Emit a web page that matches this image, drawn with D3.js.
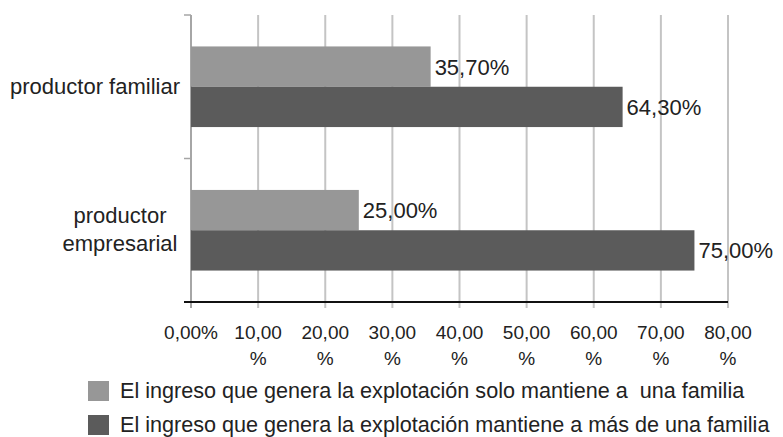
<!DOCTYPE html>
<html>
<head>
<meta charset="utf-8">
<script src="https://cdn.jsdelivr.net/npm/d3@7"></script>
<style>
  body { margin: 0; background: #fff; }
  svg { display: block; font-family: "Liberation Sans", Arial, sans-serif; }
  text { white-space: pre; }
</style>
</head>
<body>
<svg id="chart" width="783" height="437"></svg>
<script>
// Producer types and share of farms by income coverage
const categories = ["productor familiar", "productor empresarial"];
const seriesNames = [
  "El ingreso que genera la explotación solo mantiene a  una familia",
  "El ingreso que genera la explotación mantiene a más de una familia"
];
const soloUnaFamilia = [35.7, 25.0];
const masDeUnaFamilia = [64.3, 75.0];
const xTicks = [0, 10, 20, 30, 40, 50, 60, 70, 80];

const colors = ["#979797", "#5b5b5b"];
const series = [soloUnaFamilia, masDeUnaFamilia];

const svg = d3.select("#chart");
const plot = { left: 191, right: 728, top: 15, bottom: 302 };

const x = d3.scaleLinear().domain([0, 80]).range([plot.left, plot.right]);
const y = d3.scaleBand().domain(categories).range([plot.top, plot.bottom]).paddingInner(0).paddingOuter(0);
const inner = d3.scaleBand().domain([0, 1]).range([0, y.bandwidth()]).paddingInner(0).paddingOuter(0.78);

const fmt = v => d3.format(".2f")(v).replace(".", ",");

// vertical gridlines
svg.append("g").selectAll("line").data(xTicks.slice(1)).join("line")
  .attr("x1", d => x(d)).attr("x2", d => x(d))
  .attr("y1", plot.top).attr("y2", plot.bottom + 6)
  .attr("stroke", "#c4c4c4").attr("stroke-width", 2);

// category axis
svg.append("line").attr("x1", plot.left).attr("x2", plot.left).attr("y1", plot.top).attr("y2", plot.bottom + 6)
  .attr("stroke", "#a6a6a6").attr("stroke-width", 2);
const catEdges = [plot.top, y(categories[1]), plot.bottom];
svg.append("g").selectAll("line").data(catEdges).join("line")
  .attr("x1", plot.left - 7).attr("x2", plot.left).attr("y1", d => d).attr("y2", d => d)
  .attr("stroke", "#a6a6a6").attr("stroke-width", 1.5);

// bars
categories.forEach((c, ci) => {
  series.forEach((s, si) => {
    const y0 = y(c) + inner(si);
    svg.append("rect")
      .attr("x", x(0)).attr("y", y0)
      .attr("width", x(s[ci]) - x(0)).attr("height", inner.bandwidth())
      .attr("fill", colors[si]);
    svg.append("text")
      .attr("x", x(s[ci]) + 4).attr("y", y0 + inner.bandwidth() / 2)
      .attr("dy", "0.36em")
      .attr("font-size", 22).attr("fill", "#222")
      .text(fmt(s[ci]) + "%");
  });
});

// value axis baseline
svg.append("line").attr("x1", plot.left - 7).attr("x2", plot.right).attr("y1", plot.bottom).attr("y2", plot.bottom)
  .attr("stroke", "#111").attr("stroke-width", 2);

// value tick labels (number, then % on a second line)
const tl = svg.append("g").attr("font-size", 19).attr("fill", "#222").attr("text-anchor", "middle");
xTicks.forEach(t => {
  if (t === 0) {
    tl.append("text").attr("x", x(t)).attr("y", 339).text(fmt(t) + "%");
  } else {
    tl.append("text").attr("x", x(t)).attr("y", 339).text(fmt(t));
    tl.append("text").attr("x", x(t)).attr("y", 365).text("%");
  }
});

// category labels
const cl = svg.append("g").attr("font-size", 22).attr("fill", "#222");
cl.append("text").attr("x", 180).attr("y", 94).attr("text-anchor", "end").text(categories[0]);
const words = categories[1].split(" ");
cl.append("text").attr("x", 120).attr("y", 223).attr("text-anchor", "middle").text(words[0]);
cl.append("text").attr("x", 120).attr("y", 251).attr("text-anchor", "middle").text(words[1]);

// legend
const lg = svg.append("g");
seriesNames.forEach((n, i) => {
  const ly = 381 + i * 34;
  lg.append("rect").attr("x", 88).attr("y", ly).attr("width", 21).attr("height", 20).attr("fill", colors[i]);
  lg.append("text").attr("x", 120).attr("y", ly + 17).attr("font-size", 21.6).attr("fill", "#222").text(n);
});
</script>
</body>
</html>
